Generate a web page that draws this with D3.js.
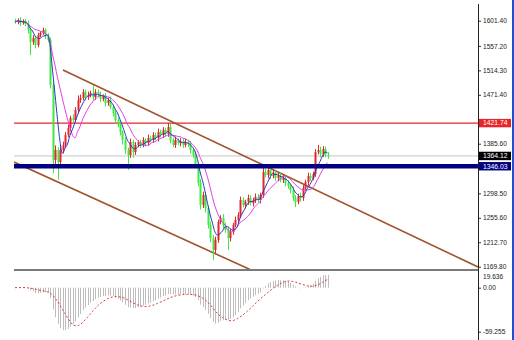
<!DOCTYPE html>
<html>
<head>
<meta charset="utf-8">
<script src="https://cdn.jsdelivr.net/npm/d3@7"></script>
<style>
body { margin: 0; background: #fff; }
svg { display: block; font-family: "Liberation Sans", Arial, sans-serif; }
</style>
</head>
<body>
<svg id="chart" width="514" height="340"></svg>
<script>
// closing prices, one per bar (open = previous close)
const firstOpen = 1601.0;
const closes = [
  1599.1, 1602.6, 1597.3, 1600.9, 1595.6, 1585.1, 1564.0, 1571.0, 1558.7, 1576.3,
  1579.8, 1585.1, 1574.5, 1567.5, 1488.6, 1357.0, 1374.5, 1353.5, 1374.5, 1383.3,
  1400.9, 1413.1, 1430.7, 1427.2, 1444.7, 1462.3, 1465.8, 1476.3, 1467.5, 1471.0,
  1474.5, 1467.5, 1476.3, 1471.0, 1464.0, 1469.3, 1457.0, 1462.3, 1450.0, 1439.4,
  1427.2, 1418.4, 1406.1, 1392.1, 1374.5, 1365.8, 1388.6, 1371.0, 1383.3, 1388.6,
  1383.3, 1392.1, 1386.8, 1395.6, 1392.1, 1400.9, 1395.6, 1406.1, 1400.9, 1409.6,
  1402.6, 1414.9, 1392.1, 1383.3, 1392.1, 1386.8, 1390.3, 1383.3, 1388.6, 1385.0,
  1374.5, 1365.8, 1348.2, 1316.6, 1278.0, 1295.6, 1272.8, 1243.0, 1220.1, 1199.2,
  1216.6, 1248.2, 1255.2, 1243.0, 1234.2, 1220.1, 1230.7, 1243.0, 1251.8, 1260.5,
  1286.8, 1278.0, 1283.3, 1290.3, 1281.5, 1286.8, 1292.1, 1286.8, 1295.6, 1335.9,
  1330.7, 1339.5, 1328.9, 1334.2, 1325.4, 1330.7, 1321.9, 1325.4, 1316.6, 1311.4,
  1304.3, 1290.3, 1283.3, 1293.8, 1290.3, 1307.9, 1318.4, 1328.9, 1325.4, 1332.4,
  1371.0, 1374.5, 1367.5, 1376.3, 1365.8, 1364.12
];
// wick lengths above / below the body, in price units
const wickUp = [
  4,3,5,3,4,6,4,5,3,4, 3,4,3,5,4,6,8,5,9,6, 5,6,4,7,5,8,6,5,4,6,
  4,14,5,4,6,3,5,4,6,4, 5,4,6,3,5,4,6,4,5,3, 4,5,3,6,4,5,4,6,4,5,
  4,7,5,4,6,3,5,4,6,4, 5,4,6,5,7,6,5,4,6,5, 6,4,5,7,4,6,5,4,6,5,
  6,5,4,6,5,4,6,5,4,9, 6,5,4,6,5,4,5,6,4,5, 4,6,5,4,6,5,4,6,5,4,
  5,9,6,5,4,5
];
const wickDown = [
  3,4,5,3,4,6,23,5,6,4, 4,3,5,4,6,23,9,31,10,6, 5,4,6,5,4,6,5,4,6,5,
  4,6,5,4,5,4,6,5,4,6, 5,4,6,8,7,26,5,10,5,4, 5,4,6,5,4,5,4,6,4,5,
  4,5,6,4,5,4,6,5,4,5, 6,5,4,6,8,5,8,6,7,18, 6,5,4,6,5,21,6,5,4,5,
  5,4,6,5,4,6,5,4,6,5, 4,6,5,4,5,6,4,5,6,5, 6,5,9,4,6,5,4,6,5,4,
  5,4,6,5,4,5
];

const priceTicks = [1601.40, 1557.20, 1514.30, 1471.40, 1428.50, 1385.60, 1342.70, 1298.50, 1255.60, 1212.70, 1169.80];
const hiddenTicks = [1428.50, 1342.70];                 // covered by the price tags
const levelValues = [1421.74, 1364.12, 1346.03];       // resistance, last price, support
const upperTrend = [[19.2, 1514.9], [185.2, 1169.3]];  // [bar, price]
const lowerTrend = [[-0.4, 1353.5], [94, 1164.9]];
const macdTicks = [19.636, 0.00, -59.255];
const fastPeriod = 5, slowPeriod = 10;

const bars = closes.map((c, i) => {
  const o = i == 0 ? firstOpen : closes[i - 1];
  return { i: i, o: o, c: c, h: Math.max(o, c) + wickUp[i], l: Math.min(o, c) - wickDown[i] };
});

// simple moving average, shorter window at the start
function sma(arr, n) {
  return arr.map((v, i) => {
    const s = arr.slice(Math.max(0, i - n + 1), i + 1);
    return d3.mean(s);
  });
}
function ema(arr, n) {
  const k = 2 / (n + 1);
  let prev = arr[0];
  return arr.map(v => (prev = prev + k * (v - prev)));
}
const maFast = sma(closes, fastPeriod);
const maSlow = sma(closes, slowPeriod);
const e12 = ema(closes, 12), e26 = ema(closes, 26);
const macd = closes.map((c, i) => e12[i] - e26[i]);
const signal = sma(macd, 9);

const svg = d3.select("#chart");
const left = 14, right = 478;
const x = d3.scaleLinear().domain([-0.4, 185.2]).range([left, right]);
const y = d3.scaleLinear().domain([1169.8, 1601.4]).range([266.7, 20.7]);
const ym = d3.scaleLinear().domain([-59.255, 19.636]).range([331.7, 273.1]);

svg.append("defs").append("clipPath").attr("id", "mainClip")
  .append("rect").attr("x", left).attr("y", 0).attr("width", right - left).attr("height", 269);
svg.select("defs").append("clipPath").attr("id", "subClip")
  .append("rect").attr("x", left).attr("y", 272).attr("width", right - left).attr("height", 68);

const main = svg.append("g").attr("clip-path", "url(#mainClip)");

// horizontal levels
main.append("line").attr("x1", left).attr("x2", right)
  .attr("y1", y(levelValues[0])).attr("y2", y(levelValues[0]))
  .attr("stroke", "#e8262a").attr("stroke-width", 1.3);
main.append("line").attr("x1", left).attr("x2", right)
  .attr("y1", y(levelValues[1])).attr("y2", y(levelValues[1]))
  .attr("stroke", "#c4c4c4").attr("stroke-width", 1);

// trend channel
const trendLine = d3.line().x(d => x(d[0])).y(d => y(d[1]));
[upperTrend, lowerTrend].forEach(t => {
  main.append("path").attr("d", trendLine(t))
    .attr("fill", "none").attr("stroke", "#a0522d").attr("stroke-width", 1.6);
});

// candles
const up = "#e3262a", down = "#3ee83e";
const cg = main.append("g");
cg.selectAll("line.wick").data(bars).join("line").attr("class", "wick")
  .attr("x1", d => Math.round(x(d.i)) + 0.5).attr("x2", d => Math.round(x(d.i)) + 0.5)
  .attr("y1", d => y(d.h)).attr("y2", d => y(d.l))
  .attr("stroke", d => d.c >= d.o ? up : down).attr("stroke-width", 1);
cg.selectAll("rect.body").data(bars).join("rect").attr("class", "body")
  .attr("x", d => Math.round(x(d.i)) - 0.5)
  .attr("y", d => y(Math.max(d.o, d.c)))
  .attr("width", 2)
  .attr("height", d => Math.max(1, Math.abs(y(d.o) - y(d.c))))
  .attr("fill", d => d.c >= d.o ? up : down);

// moving averages
const maLine = d3.line().x((d, i) => x(i)).y(d => y(d)).curve(d3.curveMonotoneX);
main.append("path").attr("d", maLine(maSlow))
  .attr("fill", "none").attr("stroke", "#e040e0").attr("stroke-width", 1);
main.append("path").attr("d", maLine(maFast))
  .attr("fill", "none").attr("stroke", "#2a3cc8").attr("stroke-width", 1);

// support level drawn over candles
main.append("line").attr("x1", left).attr("x2", right)
  .attr("y1", y(levelValues[2])).attr("y2", y(levelValues[2]))
  .attr("stroke", "#000080").attr("stroke-width", 4.3);

// panel separator
svg.append("line").attr("x1", left).attr("x2", right).attr("y1", 270).attr("y2", 270)
  .attr("stroke", "#7a7a7a").attr("stroke-width", 2);

// MACD sub-window
const sub = svg.append("g").attr("clip-path", "url(#subClip)");
sub.selectAll("line.hist").data(macd).join("line").attr("class", "hist")
  .attr("x1", (d, i) => Math.round(x(i)) + 0.5).attr("x2", (d, i) => Math.round(x(i)) + 0.5)
  .attr("y1", ym(0)).attr("y2", d => ym(d))
  .attr("stroke", "#bdbdbd").attr("stroke-width", 1);
sub.append("path").attr("d", d3.line().x((d, i) => x(i)).y(d => ym(d)).curve(d3.curveMonotoneX)(signal))
  .attr("fill", "none").attr("stroke", "#d83c3c").attr("stroke-width", 1)
  .attr("stroke-dasharray", "2,2");

// right price axis
const axisG = svg.append("g").attr("transform", `translate(${right},0)`)
  .call(d3.axisRight(y).tickValues(priceTicks).tickFormat(d3.format(".2f")).tickSize(3).tickPadding(2));
axisG.select(".domain").remove();
axisG.selectAll("text").attr("font-size", 6.6).attr("fill", "#222")
  .attr("font-family", "'Liberation Sans', Arial, sans-serif");
axisG.selectAll("line").attr("stroke", "#333");
axisG.selectAll(".tick").filter(d => hiddenTicks.includes(d)).select("text").remove();

const subAxis = svg.append("g").attr("transform", `translate(${right},0)`)
  .call(d3.axisRight(ym).tickValues(macdTicks).tickFormat(d => d === 0 ? "0.00" : String(d)).tickSize(3).tickPadding(2));
subAxis.select(".domain").remove();
subAxis.selectAll("text").attr("font-size", 6.6).attr("fill", "#222")
  .attr("font-family", "'Liberation Sans', Arial, sans-serif");
subAxis.selectAll("line").attr("stroke", "#333");
subAxis.selectAll(".tick").filter(d => d === macdTicks[0]).select("text").attr("dy", "0.75em");
subAxis.selectAll(".tick").filter(d => d === macdTicks[0]).select("line").remove();

svg.append("line").attr("x1", right + 0.5).attr("x2", right + 0.5).attr("y1", 4).attr("y2", 340)
  .attr("stroke", "#222").attr("stroke-width", 1);

// level price tags
const tagColors = ["#e8262a", "#000000", "#000080"];
levelValues.forEach((v, k) => {
  const g = svg.append("g").attr("transform", `translate(${right + 1},${y(v)})`);
  g.append("rect").attr("x", 0).attr("y", -4.2).attr("width", 32).attr("height", 8.4)
    .attr("fill", tagColors[k]);
  g.append("text").attr("x", 4).attr("y", 0).attr("dy", "0.35em")
    .attr("font-size", 6.8).attr("fill", "#fff").text(d3.format(".2f")(v));
});

// window edge
svg.append("rect").attr("x", 512).attr("y", 0).attr("width", 2).attr("height", 340).attr("fill", "#1e4fd8");
</script>
</body>
</html>
